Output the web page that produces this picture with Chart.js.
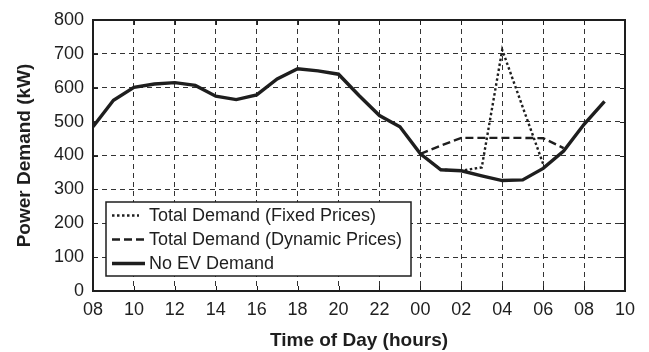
<!DOCTYPE html>
<html>
<head>
<meta charset="utf-8">
<script src="https://cdn.jsdelivr.net/npm/chart.js@4/dist/chart.umd.min.js"></script>
<style>
  html, body { margin: 0; padding: 0; background: #ffffff; }
  #wrap { width: 649px; height: 352px; }
</style>
</head>
<body>
<div id="wrap"><canvas id="c" width="649" height="352"></canvas></div>
<script>
// Hour labels (starting 08:00, hourly)
const hourLabels = ["08","09","10","11","12","13","14","15","16","17","18","19","20","21","22","23","00","01","02","03","04","05","06","07","08","09"];
// No EV Demand (kW), one per hour from 08 to 09 next day
const noEvDemand = [485,563,601,611,615,607,575,565,579,626,656,650,640,577,518,485,405,358,355,340,326,328,362,413,492,560];
// Total Demand (Fixed Prices), hours 00..06
const fixedStartIndex = 16;
const fixedDemand = [405,358,355,365,712,543,375];
// Total Demand (Dynamic Prices), hours 00..07
const dynamicStartIndex = 16;
const dynamicDemand = [405,429,452,452,452,452,451,422];
// Axis tick values
const xTickValues = [0,2,4,6,8,10,12,14,16,18,20,22,24,26];
const yTickValues = [0,100,200,300,400,500,600,700,800];
const seriesNames = ["Total Demand (Fixed Prices)", "Total Demand (Dynamic Prices)", "No EV Demand"];

const FONT = "'Liberation Sans', Arial, Helvetica, sans-serif";
const INK = '#1e1e1e';

function toPoints(arr, start) { return arr.map((v, i) => ({x: start + i, y: v})); }

const frame = {
  id: 'frame',
  beforeDatasetsDraw(chart) {
    const {ctx, chartArea: a, scales: {x, y}} = chart;
    ctx.save();
    ctx.strokeStyle = INK;
    ctx.lineWidth = 1;
    ctx.setLineDash([]);
    const tl = 5;
    xTickValues.forEach(v => {
      const px = Math.round(x.getPixelForValue(v)) + 0.5;
      ctx.beginPath();
      ctx.moveTo(px, a.bottom); ctx.lineTo(px, a.bottom - tl);
      ctx.moveTo(px, a.top); ctx.lineTo(px, a.top + tl);
      ctx.stroke();
    });
    yTickValues.forEach(v => {
      const py = Math.round(y.getPixelForValue(v)) + 0.5;
      ctx.beginPath();
      ctx.moveTo(a.left, py); ctx.lineTo(a.left + tl, py);
      ctx.moveTo(a.right, py); ctx.lineTo(a.right - tl, py);
      ctx.stroke();
    });
    ctx.restore();
  },
  afterDraw(chart) {
    const {ctx, chartArea: a} = chart;
    ctx.save();
    ctx.setLineDash([]);
    ctx.strokeStyle = INK;
    ctx.lineWidth = 2;
    ctx.strokeRect(a.left, a.top, a.right - a.left, a.bottom - a.top);

    // legend box
    const bx = 106, by = 202, bw = 305, bh = 74;
    ctx.fillStyle = '#ffffff';
    ctx.fillRect(bx, by, bw, bh);
    ctx.lineWidth = 1.5;
    ctx.strokeRect(bx, by, bw, bh);
    const rows = [215, 239, 263];
    const styles = [
      {dash: [2.5, 2.5], w: 2.4, x2: 139},
      {dash: [8, 4], w: 2.4, x2: 144},
      {dash: [], w: 3.4, x2: 145}
    ];
    ctx.font = "18px " + FONT;
    ctx.textBaseline = 'middle';
    ctx.textAlign = 'left';
    rows.forEach((ry, i) => {
      const s = styles[i];
      ctx.beginPath();
      ctx.setLineDash(s.dash);
      ctx.lineWidth = s.w;
      ctx.strokeStyle = INK;
      ctx.moveTo(112, ry + 0.5); ctx.lineTo(s.x2, ry + 0.5);
      ctx.stroke();
      ctx.setLineDash([]);
      ctx.fillStyle = INK;
      ctx.fillText(seriesNames[i], 149, ry + 1);
    });
    ctx.restore();
  }
};

new Chart(document.getElementById('c'), {
  type: 'line',
  data: {
    datasets: [
      {
        label: seriesNames[0],
        data: toPoints(fixedDemand, fixedStartIndex),
        borderColor: INK, borderWidth: 2.4, borderDash: [2.5, 2.5],
        pointRadius: 0, fill: false, tension: 0, order: 2
      },
      {
        label: seriesNames[1],
        data: toPoints(dynamicDemand, dynamicStartIndex),
        borderColor: INK, borderWidth: 2.4, borderDash: [8, 4],
        pointRadius: 0, fill: false, tension: 0, order: 1
      },
      {
        label: seriesNames[2],
        data: toPoints(noEvDemand, 0),
        borderColor: INK, borderWidth: 3.4,
        pointRadius: 0, fill: false, tension: 0, order: 0
      }
    ]
  },
  options: {
    responsive: false,
    animation: false,
    devicePixelRatio: 1,
    layout: { padding: { top: 20, right: 24, left: 0, bottom: 0 } },
    plugins: { legend: { display: false }, tooltip: { enabled: false } },
    scales: {
      x: {
        type: 'linear', min: 0, max: 26,
        afterFit(s) { s.height = 61; },
        afterBuildTicks(s) { s.ticks = xTickValues.map(v => ({value: v})); },
        ticks: {
          autoSkip: false, maxRotation: 0, padding: 8, color: INK,
          font: { family: FONT, size: 18 },
          callback: (v) => String((8 + v) % 24).padStart(2, '0')
        },
        grid: { color: '#333333', lineWidth: 1, drawTicks: false },
        border: { display: false, dash: [5, 4] },
        title: {
          display: true, text: 'Time of Day (hours)', color: INK,
          font: { family: FONT, size: 19, weight: 'bold' },
          padding: { top: 0, bottom: 0 }
        }
      },
      y: {
        min: 0, max: 800,
        afterFit(s) { s.width = 93; },
        afterBuildTicks(s) { s.ticks = yTickValues.map(v => ({value: v})); },
        ticks: {
          padding: 9, color: INK,
          font: { family: FONT, size: 18 }
        },
        grid: { color: '#333333', lineWidth: 1, drawTicks: false },
        border: { display: false, dash: [5, 4] },
        title: {
          display: true, text: 'Power Demand (kW)', color: INK,
          font: { family: FONT, size: 19, weight: 'bold' },
          padding: { top: 13, bottom: 0 }
        }
      }
    }
  },
  plugins: [frame]
});
</script>
</body>
</html>
